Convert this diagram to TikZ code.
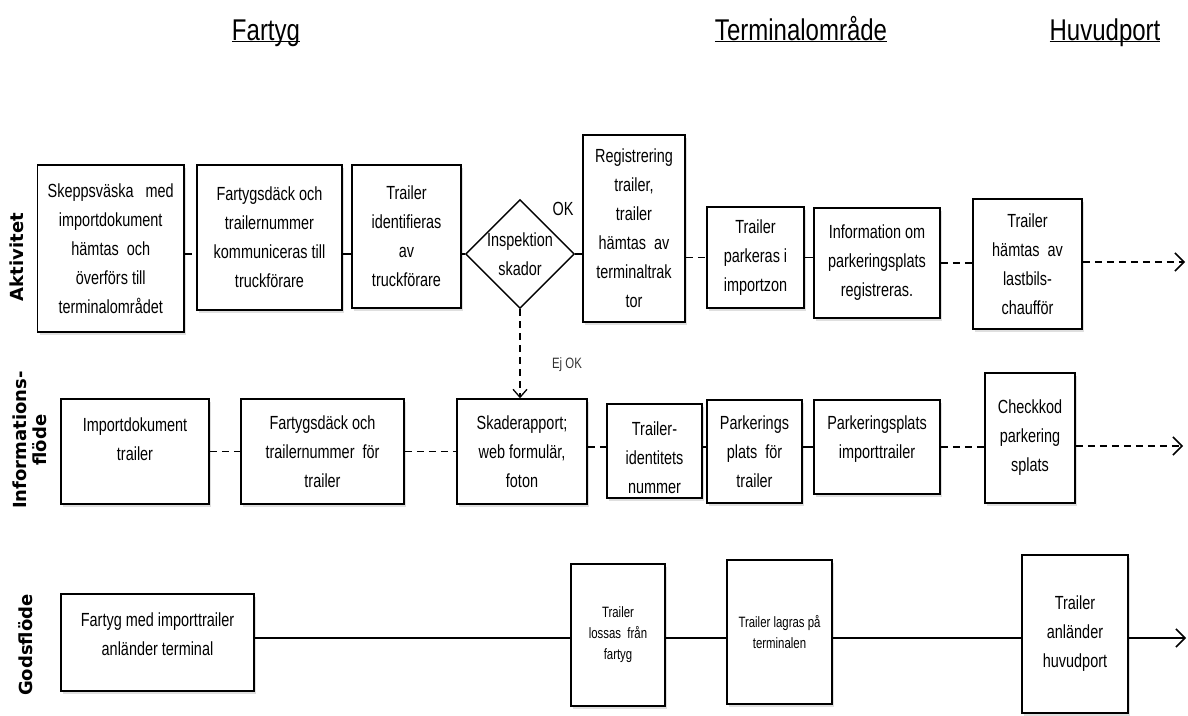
\documentclass[tikz,border=0pt]{standalone}
\usepackage{fontspec}
\setmainfont[FakeStretch=0.76]{Liberation Sans}
\newfontfamily\headfont[FakeStretch=0.8]{Liberation Sans}
\newfontfamily\lanefont{DejaVu Sans}
\usetikzlibrary{shapes.geometric,arrows.meta,shadows}
\newcommand\headline[1]{\underline{\vphantom{a}\smash{#1}}}

\begin{document}
\begin{tikzpicture}[x=1pt,y=-1pt,
    box/.style={draw,line width=1.5pt,fill=white,align=center,inner sep=0pt,
      drop shadow={shadow xshift=2pt,shadow yshift=-2.5pt,opacity=0.25},
      font=\fontsize{19}{29}\selectfont},
    smalltext/.style={font=\fontsize{15}{21}\selectfont},
    lane/.style={rotate=90,align=center,font=\lanefont\bfseries\fontsize{18}{20}\selectfont},
    head/.style={anchor=base,font=\headfont\fontsize{30}{32}\selectfont},
    link/.style={line width=1.5pt},
    dlink/.style={link,dash pattern=on 7pt off 5pt},
    tip/.style={-{Straight Barb[length=9pt,width=18pt,line width=1.5pt]}}]
  \useasboundingbox (0,0) rectangle (1188,715);

  % headings and lanes
  \node[head] (hfartyg) at (266,40) {\headline{Fartyg}};
  \node[head] (hterm) at (801,40) {\headline{Terminalområde}};
  \node[head] (hport) at (1105,40) {\headline{Huvudport}};
  \node[lane] (laktiv) at (17,257) {Aktivitet};
  \node[lane] (linfo) at (30,440) {Informations-\\flöde};
  \node[lane] (lgods) at (26,645) {Godsflöde};

  % aktivitet
  \node[box,minimum width=146.5,minimum height=167] (skep) at (110.75,248.5)
    {Skeppsväska~~ med\\importdokument\\hämtas~ och\\överförs till\\terminalområdet};
  \node[box,minimum width=145,minimum height=145] (fdk1) at (269.5,237.5)
    {Fartygsdäck och\\trailernummer\\kommuniceras till\\truckförare};
  \node[box,minimum width=109,minimum height=143] (ident) at (406.5,236.5)
    {Trailer\\identifieras\\av\\truckförare};
  \node[draw,line width=1.5pt,diamond,aspect=1,inner sep=0pt,align=center,
    font=\fontsize{19}{29}\selectfont] (insp) at (520,254) {Inspektion\\skador};
  \node[font=\fontsize{19}{29}\selectfont] (ok) at (563,209) {OK};
  \node[box,minimum width=102,minimum height=187] (reg) at (634,228.5)
    {Registrering\\trailer,\\trailer\\hämtas~ av\\terminaltrak\\tor};
  \node[box,minimum width=97,minimum height=101] (park) at (755.5,257.5)
    {Trailer\\parkeras i\\importzon};
  \node[box,minimum width=126,minimum height=110] (info) at (877,263)
    {Information om\\parkeringsplats\\registreras.};
  \node[box,minimum width=109,minimum height=130] (hamt) at (1027.5,264)
    {Trailer\\hämtas~ av\\lastbils-\\chaufför};
  \coordinate (end1) at (1185,262);

  \draw[dlink] (skep.east |- insp.west) -- (fdk1.west |- insp.west);
  \draw[link] (fdk1.east |- insp.west) -- (ident.west |- insp.west);
  \draw[link] (ident.east |- insp.west) -- (insp.west);
  \draw[link] (insp.east) -- (insp.east -| reg.west);
  \draw[dlink] (reg.east |- park.west) -- (park.west);
  \draw[link] (park.east) -- (park.east -| info.west);
  \draw[dlink] (info.east) -- (info.east -| hamt.west);
  \draw[dlink,tip] (hamt.east |- end1) -- (end1);

  % informationsflöde
  \node[box,minimum width=148,minimum height=105] (imp) at (135,451.5)
    {Importdokument\\trailer\\[-5pt]};
  \node[box,minimum width=163,minimum height=105] (fdk2) at (322.5,451.5)
    {Fartygsdäck och\\trailernummer~ för\\trailer};
  \node[box,minimum width=130,minimum height=105] (skad) at (522,451.5)
    {Skaderapport;\\web formulär,\\foton};
  \node[box,minimum width=95,minimum height=94] (tnum) at (654.5,451)
    {\mbox{}\\[-1pt]Trailer-\\identitets\\nummer};
  \node[box,minimum width=95,minimum height=103] (pfor) at (754.5,451.5)
    {Parkerings\\plats~ för\\trailer};
  \node[box,minimum width=126,minimum height=94] (pimp) at (877,447)
    {Parkeringsplats\\importtrailer\\[-9pt]};
  \node[box,minimum width=90,minimum height=130] (chk) at (1030,438)
    {Checkkod\\parkering\\splats};
  \node[smalltext,text=black!80] (ejok) at (567,365) {Ej OK};
  \coordinate (end2) at (1183,446);

  \draw[dlink,-{Straight Barb[length=8pt,width=14pt,line width=1.3pt]}]
    (insp.south) -- (insp.south |- skad.north);
  \draw[dlink] (imp) -- (fdk2);
  \draw[dlink] (fdk2) -- (skad);
  \draw[dlink] (skad.east |- pimp.west) -- (tnum.west |- pimp.west);
  \draw[link] (tnum.east |- pimp.west) -- (pfor.west |- pimp.west);
  \draw[link] (pfor.east |- pimp.west) -- (pimp.west);
  \draw[dlink] (pimp.east) -- (pimp.east -| chk.west);
  \draw[dlink,tip] (chk.east |- end2) -- (end2);

  % godsflöde
  \node[box,minimum width=193,minimum height=97] (fmed) at (157.5,642.5)
    {Fartyg med importtrailer\\anländer terminal\\[-12pt]};
  \node[box,smalltext,minimum width=94,minimum height=142] (loss) at (618,635)
    {Trailer\\lossas~ från\\fartyg};
  \node[box,smalltext,minimum width=105,minimum height=144] (lagr) at (779.5,632)
    {Trailer lagras på\\terminalen};
  \node[box,minimum width=106,minimum height=158] (anl) at (1075,634)
    {Trailer\\anländer\\huvudport};
  \coordinate (end3) at (1186,638);

  \draw[link] (fmed.east |- end3) -- (loss.west |- end3);
  \draw[link] (loss.east |- end3) -- (lagr.west |- end3);
  \draw[link] (lagr.east |- end3) -- (anl.west |- end3);
  \draw[link,tip] (anl.east |- end3) -- (end3);
\end{tikzpicture}
\end{document}
